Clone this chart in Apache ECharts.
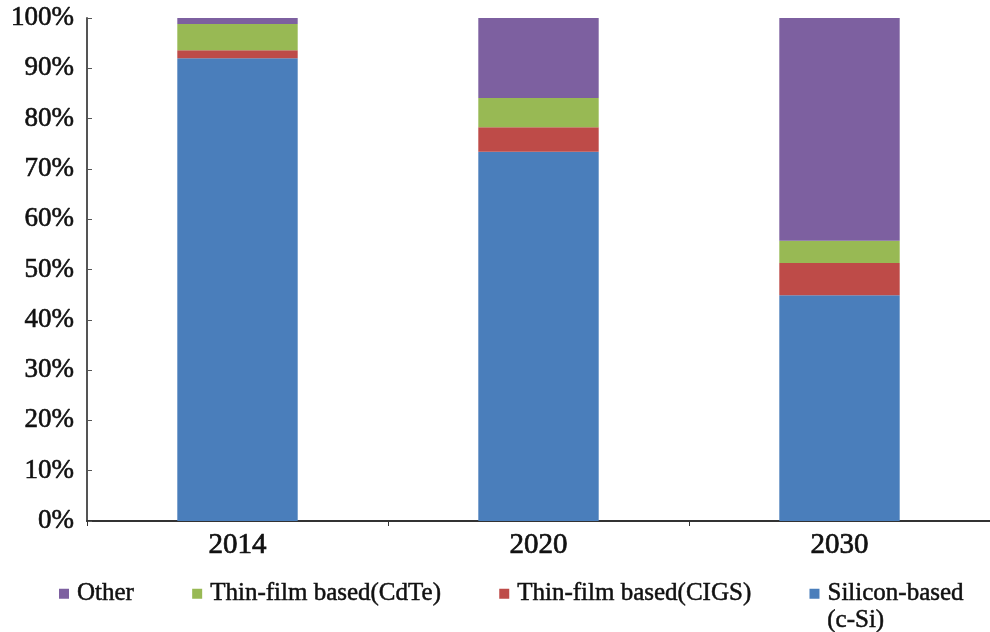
<html lang="en">
  <head>
    <meta charset="utf-8" />
    <title>PV technology share</title>
    <script src="https://cdn.jsdelivr.net/npm/echarts@6/dist/echarts.min.js"></script>
    <style>
      body { margin: 0; background: #fff; }
    </style>
  </head>
  <body>
    <div id="main" style="width: 990px;height:632px;"></div>
    <script type="text/javascript">
      var years = ['2014', '2020', '2030'];
      var yTicks = [0, 10, 20, 30, 40, 50, 60, 70, 80, 90, 100];
      // shares in %
      var silicon = [92.0, 73.4, 44.9];
      var cigs = [1.6, 4.9, 6.4];
      var cdte = [5.2, 5.8, 4.4];
      var other = [1.2, 15.9, 44.3];

      var chartDom = document.getElementById('main');
      var myChart = echarts.init(chartDom);
      var font = '"Liberation Serif", "DejaVu Serif", serif';
      var ink = '#111';

      function bar(name, data, color) {
        return {
          name: name,
          type: 'bar',
          stack: 'total',
          barWidth: '40%',
          data: data,
          itemStyle: { color: color }
        };
      }

      var option = {
        animation: false,
        grid: { left: 87, right: 0, top: 18, bottom: 111 },
        legend: {
          data: ['Other', 'Thin-film based(CdTe)', 'Thin-film based(CIGS)', 'Silicon-based (c-Si)'],
          formatter: function (name) {
            // second line of the silicon label is drawn below as its own text
            return name === 'Silicon-based (c-Si)' ? 'Silicon-based' : name;
          },
          left: 54,
          top: 576,
          itemWidth: 10,
          itemHeight: 10,
          itemGap: 58,
          icon: 'rect',
          textStyle: { fontFamily: font, fontSize: 25, color: ink, textBorderColor: ink, textBorderWidth: 0.5, padding: [0, 0, 0, 3] }
        },
        graphic: [{
          type: 'text',
          left: 827,
          top: 608,
          style: { text: '(c-Si)', font: '25px ' + font, fill: ink, stroke: ink, lineWidth: 0.5 }
        }],
        xAxis: {
          type: 'category',
          data: years,
          axisLine: { lineStyle: { color: '#333', width: 2 } },
          axisTick: { show: true, length: 5, lineStyle: { color: '#333' } },
          axisLabel: { fontFamily: font, fontSize: 29, color: ink, textBorderColor: ink, textBorderWidth: 0.7, margin: 10 }
        },
        yAxis: {
          type: 'value',
          min: yTicks[0],
          max: yTicks[yTicks.length - 1],
          interval: 10,
          axisLine: { show: true, lineStyle: { color: '#555', width: 2 } },
          axisTick: { show: true, inside: true, length: 5, lineStyle: { color: '#555' } },
          splitLine: { show: false },
          axisLabel: { formatter: '{value}%', fontFamily: font, fontSize: 27, color: ink, textBorderColor: ink, textBorderWidth: 0.6, margin: 13 }
        },
        series: [
          bar('Silicon-based (c-Si)', silicon, '#4a7ebb'),
          bar('Thin-film based(CIGS)', cigs, '#be4b48'),
          bar('Thin-film based(CdTe)', cdte, '#98b954'),
          bar('Other', other, '#7d60a0')
        ]
      };

      myChart.setOption(option);
    </script>
  </body>
</html>
